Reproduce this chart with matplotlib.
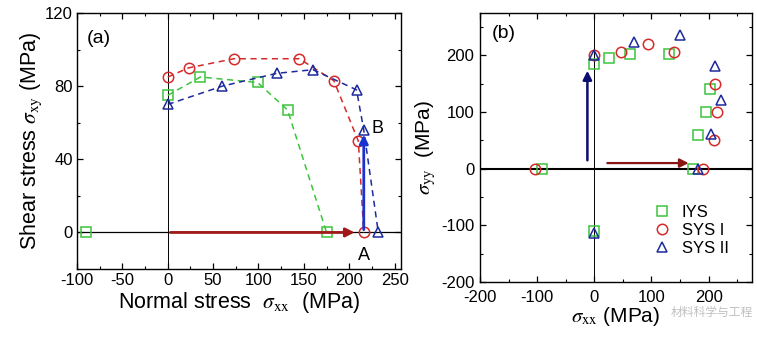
import matplotlib
matplotlib.use("Agg")
import matplotlib.pyplot as plt
from matplotlib.ticker import MultipleLocator

plt.rcParams['font.family'] = ['Liberation Sans', 'DejaVu Sans']
plt.rcParams['mathtext.fontset'] = 'stix'
plt.rcParams['axes.unicode_minus'] = False

# ---- panel (a): shear vs normal stress ----
a_iys_x = [0, 36, 99, 132, 175]
a_iys_y = [75, 85, 82, 67, 0]
a_iys_extra_x = [-90]
a_iys_extra_y = [0]
a_sys1_x = [0, 23, 73, 145, 183, 210, 216]
a_sys1_y = [85, 90, 95, 95, 83, 50, 0]
a_sys2_x = [0, 60, 120, 160, 208, 216, 232]
a_sys2_y = [70, 80, 87, 89, 78, 56, 0]

# ---- panel (b): biaxial yield points ----
b_iys_x = [-92, 0, 26, 63, 131, 202, 195, 182, 172, 0]
b_iys_y = [0, 185, 196, 203, 203, 140, 100, 60, 0, -110]
b_sys1_x = [-104, 0, 46, 94, 140, 212, 214, 209, 190]
b_sys1_y = [0, 200, 206, 221, 206, 150, 100, 50, 0]
b_sys2_x = [0, 69, 150, 211, 221, 205, 181, 0]
b_sys2_y = [200, 223, 237, 181, 122, 62, 0, -113]

GREEN = '#3dc43d'
RED = '#d42a2a'
BLUE = '#1c2a9c'

fig = plt.figure(figsize=(7.57, 3.38), dpi=100)
axa = fig.add_axes([0.1017, 0.2041, 0.428, 0.7574])
axb = fig.add_axes([0.634, 0.1657, 0.3594, 0.7958])

mk = dict(markersize=7.5, markerfacecolor='none', markeredgewidth=1.1)
dash = (0, (4, 3))

# panel (a)
axa.axhline(0, color='black', lw=0.9, zorder=1)
axa.axvline(0, color='black', lw=0.7, zorder=1)
axa.plot(a_iys_x, a_iys_y, ls=dash, color=GREEN, lw=1.1, marker='s', markeredgecolor=GREEN, **mk, zorder=3)
axa.plot(a_iys_extra_x, a_iys_extra_y, ls='none', marker='s', markeredgecolor=GREEN, **mk, zorder=3)
axa.plot(a_sys1_x, a_sys1_y, ls=dash, color=RED, lw=1.1, marker='o', markeredgecolor=RED, **mk, zorder=3)
axa.plot(a_sys2_x, a_sys2_y, ls=dash, color=BLUE, lw=1.1, marker='^', markeredgecolor=BLUE, **mk, zorder=3)

axa.annotate('', xy=(209, 0), xytext=(0, 0),
             arrowprops=dict(arrowstyle='-|>', color='#a01818', lw=2.0, mutation_scale=13), zorder=4)
axa.annotate('', xy=(216, 55), xytext=(216, 0),
             arrowprops=dict(arrowstyle='-|>', color='#1a32d0', lw=2.0, mutation_scale=13), zorder=4)
axa.text(216, -8, 'A', ha='center', va='top', fontsize=13)
axa.text(225, 57, 'B', ha='left', va='center', fontsize=13)
axa.text(0.03, 0.935, '(a)', transform=axa.transAxes, ha='left', va='top', fontsize=14)

axa.set_xlim(-100, 257)
axa.set_ylim(-20, 120)
axa.xaxis.set_major_locator(MultipleLocator(50))
axa.xaxis.set_minor_locator(MultipleLocator(25))
axa.yaxis.set_minor_locator(MultipleLocator(20))
axa.set_yticks([0, 40, 80, 120])
axa.set_xlabel(r'Normal stress  $\sigma_{\mathrm{xx}}$  (MPa)', fontsize=15.5, labelpad=1)
axa.set_ylabel(r'Shear stress $\sigma_{\mathrm{xy}}$ (MPa)', fontsize=15.5, labelpad=1)

# panel (b)
axb.axhline(0, color='black', lw=1.5, zorder=1)
axb.axvline(0, color='black', lw=0.7, zorder=1)
axb.plot(b_iys_x, b_iys_y, ls='none', marker='s', markeredgecolor=GREEN, **mk, label='IYS', zorder=3)
axb.plot(b_sys1_x, b_sys1_y, ls='none', marker='o', markeredgecolor=RED, **mk, label='SYS I', zorder=3)
axb.plot(b_sys2_x, b_sys2_y, ls='none', marker='^', markeredgecolor=BLUE, **mk, label='SYS II', zorder=3)

axb.annotate('', xy=(-12, 178), xytext=(-12, 10),
             arrowprops=dict(arrowstyle='-|>', color='#0d0d70', lw=1.8, mutation_scale=13), zorder=4)
axb.annotate('', xy=(170, 10), xytext=(18, 10),
             arrowprops=dict(arrowstyle='-|>', color='#8a1515', lw=1.6, mutation_scale=13), zorder=4)
axb.text(0.045, 0.955, '(b)', transform=axb.transAxes, ha='left', va='top', fontsize=14)

axb.legend(loc='lower right', bbox_to_anchor=(0.97, 0.04), frameon=False, fontsize=12,
           handletextpad=0.6, labelspacing=0.2, handlelength=1.2)

axb.set_xlim(-200, 276)
axb.set_ylim(-200, 275)
axb.xaxis.set_major_locator(MultipleLocator(100))
axb.xaxis.set_minor_locator(MultipleLocator(50))
axb.yaxis.set_major_locator(MultipleLocator(100))
axb.yaxis.set_minor_locator(MultipleLocator(50))
axb.set_xlabel(r'$\sigma_{\mathrm{xx}}$ (MPa)', fontsize=15, labelpad=0)
axb.set_ylabel(r'$\sigma_{\mathrm{yy}}$  (MPa)', fontsize=15, labelpad=2)

for ax in (axa, axb):
    ax.tick_params(which='both', direction='in', top=True, right=True, labelsize=12)
    ax.tick_params(which='major', length=4, width=0.9, pad=3)
    ax.tick_params(which='minor', length=2.5, width=0.8)
    for s in ax.spines.values():
        s.set_linewidth(1.0)
axb.tick_params(axis='x', which='major', pad=6)
axb.tick_params(axis='y', which='major', pad=4)

# watermark
fig.text(0.94, 0.075, '材料科学与工程', fontsize=8.5, color='#b0b0b0', alpha=0.8,
         family=['Noto Sans CJK SC', 'DejaVu Sans'], ha='center', va='center')

fig.savefig('out.png', dpi=100)
